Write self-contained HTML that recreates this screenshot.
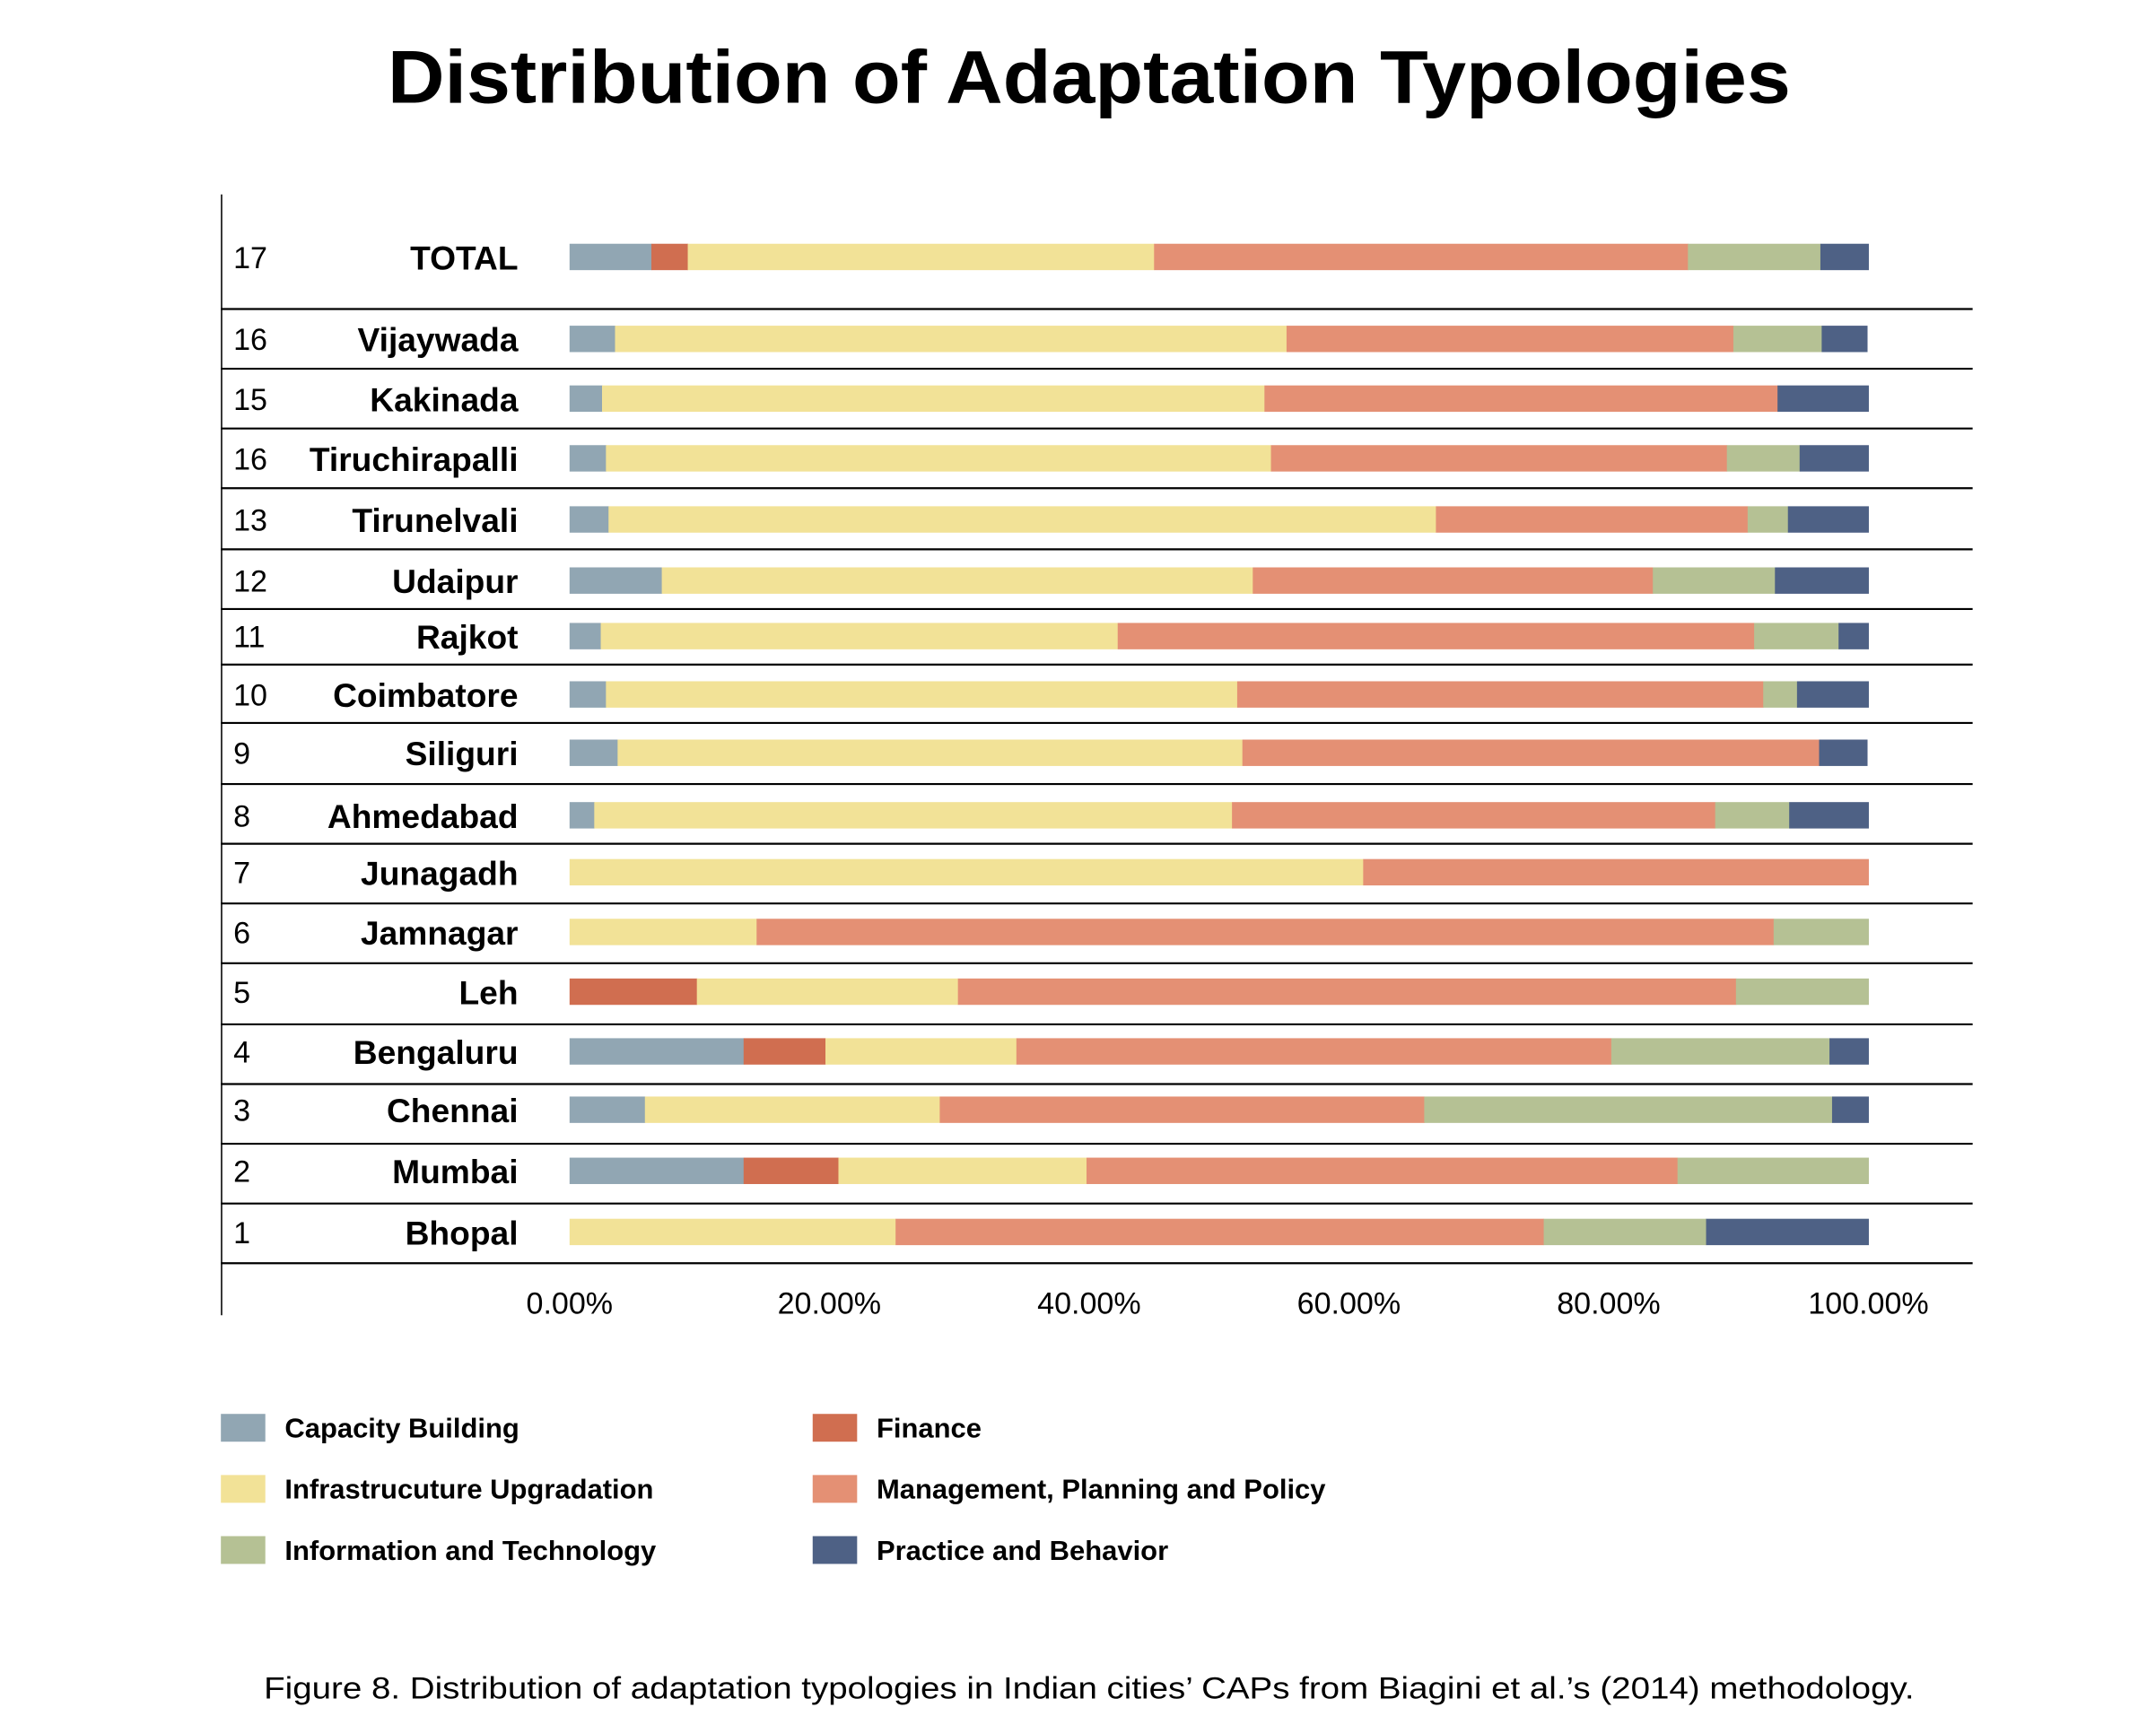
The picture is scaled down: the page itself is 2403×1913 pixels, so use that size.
<!DOCTYPE html>
<html><head><meta charset="utf-8"><style>
html,body{margin:0;padding:0;background:#fff;}
svg{display:block;font-family:"Liberation Sans",sans-serif;}
</style></head><body>
<svg id="chart" width="2403" height="1913" viewBox="0 0 1552 1235.5" preserveAspectRatio="none" xmlns="http://www.w3.org/2000/svg">
<text x="784" y="74" text-anchor="middle" font-size="54" font-weight="bold" textLength="1010" lengthAdjust="spacingAndGlyphs">Distribution of Adaptation Typologies</text>
<line x1="159.5" y1="140" x2="159.5" y2="947" stroke="#000" stroke-width="1"/>
<g id="grid"></g><g id="bars"></g><g id="labels"></g><g id="ticks"></g><g id="legend"></g>
<text x="784" y="1223" text-anchor="middle" font-size="22" textLength="1188" lengthAdjust="spacingAndGlyphs">Figure 8. Distribution of adaptation typologies in Indian cities’ CAPs from Biagini et al.’s (2014) methodology.</text>
</svg>
<script>
const rowNums = ["17","16","15","16","13","12","11","10","9","8","7","6","5","4","3","2","1"];
const cities = ["TOTAL","Vijaywada","Kakinada","Tiruchirapalli","Tirunelvali","Udaipur","Rajkot","Coimbatore","Siliguri","Ahmedabad","Junagadh","Jamnagar","Leh","Bengaluru","Chennai","Mumbai","Bhopal"];
const seriesNames = ["Capacity Building","Finance","Infrastrucuture Upgradation","Management, Planning and Policy","Information and Technology","Practice and Behavior"];
const capacity = [6.3,3.5,2.5,2.8,3.0,7.1,2.4,2.8,3.7,1.9,0,0,0,13.4,5.8,13.4,0];
const finance = [2.8,0,0,0,0,0,0,0,0,0,0,0,9.8,6.3,0,7.3,0];
const infra = [35.9,51.7,51.0,51.2,63.7,45.5,39.8,48.6,48.1,49.1,61.1,14.4,20.1,14.7,22.7,19.1,25.1];
const mgmt = [41.1,34.4,39.5,35.1,24.0,30.8,49.0,40.5,44.4,37.2,38.9,78.3,59.9,45.8,37.3,45.5,49.9];
const infotech = [10.2,6.8,0,5.6,3.1,9.4,6.5,2.6,0,5.7,0,7.3,10.2,16.8,31.4,14.7,12.5];
const practice = [3.7,3.5,7.0,5.3,6.2,7.2,2.3,5.5,3.7,6.1,0,0,0,3.0,2.8,0,12.5];
const tickValues = [0,20,40,60,80,100];
const tickLabels = ["0.00%","20.00%","40.00%","60.00%","80.00%","100.00%"];

const colors = ["#91a6b3","#d06e50","#f2e297","#e49074","#b5c194","#4e6185"];
const series = [capacity,finance,infra,mgmt,infotech,practice];
const NS = "http://www.w3.org/2000/svg";
const X0 = 410, X1 = 1345;
const xScale = v => X0 + (X1 - X0) * v / 100;
const rowCenters = [185,244,287,330,374,418,458,500,542,587,628,671,714,757,799,843,887];
const seps = [222,265,308,351,395,438,478,520,564,607,650,693,737,780,823,866,909];
function mk(tag, attrs, parent){const e=document.createElementNS(NS,tag);for(const k in attrs)e.setAttribute(k,attrs[k]);parent.appendChild(e);return e;}
const grid=document.getElementById('grid'), bars=document.getElementById('bars'), labels=document.getElementById('labels'), ticks=document.getElementById('ticks'), legend=document.getElementById('legend');
seps.forEach((y,i)=>{
  const l=mk('line',{x1:159,x2:1420,y1:y+0.5,y2:y+0.5,stroke:'#000','stroke-width':1.4},grid);
  
  
});
cities.forEach((c,i)=>{
  const cy=rowCenters[i];
  const bh=19;
  let cum=0;
  series.forEach((s,k)=>{
    const v=s[i];
    if(v>0){
      const x=xScale(cum), w=xScale(cum+v)-x;
      const r=mk('rect',{x:x,y:cy-bh/2,width:w+0.3,height:bh,fill:colors[k]},bars);
      
      
    }
    cum+=v;
  });
  const n=mk('text',{x:168,y:cy+8,'font-size':22},labels);
  n.textContent=rowNums[i];
  
  
  const t=mk('text',{x:373,y:cy+9,'font-size':24,'font-weight':'bold','text-anchor':'end'},labels);
  t.textContent=c;
  
  
});
tickValues.forEach((v,i)=>{
  const t=mk('text',{x:xScale(v),y:946,'font-size':22,'text-anchor':'middle'},ticks);
  t.textContent=tickLabels[i];
  
  
});
const legPos=[[159,1028],[585,1028],[159,1072],[585,1072],[159,1116],[585,1116]];
const legOrder=[0,1,2,3,4,5];
legOrder.forEach((k,i)=>{
  const [x,y]=legPos[i];
  const r=mk('rect',{x:x,y:y-10,width:32,height:20,fill:colors[k]},legend);
  
  
  const t=mk('text',{x:x+46,y:y+7,'font-size':20,'font-weight':'bold'},legend);
  t.textContent=seriesNames[k];
  
  
});
</script>
</body></html>
